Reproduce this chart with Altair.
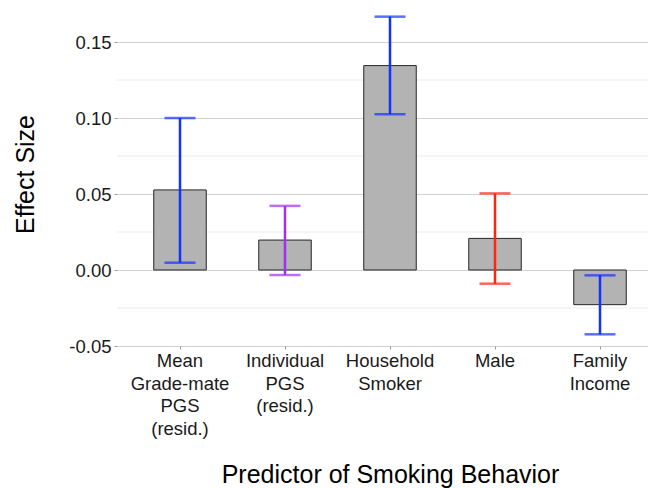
import altair as alt
import pandas as pd

predictors = ["Mean\nGrade-mate\nPGS\n(resid.)", "Individual\nPGS\n(resid.)", "Household\nSmoker", "Male", "Family\nIncome"]
estimates = [0.0527, 0.0197, 0.1345, 0.0208, -0.0228]
ci_low = [0.0048, -0.0033, 0.1025, -0.0090, -0.0423]
ci_high = [0.1000, 0.0422, 0.1667, 0.0504, -0.0035]
bar_colors = ["#1232FF", "#A030F0", "#1232FF", "#FF2410", "#1232FF"]
y_ticks = [-0.05, 0.0, 0.05, 0.10, 0.15]
minor_grid = [-0.025, 0.025, 0.075, 0.125]

df = pd.DataFrame({"predictor": predictors, "est": estimates, "lo": ci_low,
                   "hi": ci_high, "col": bar_colors})
minor_df = pd.DataFrame({"v": minor_grid})

FONT = "Liberation Sans"
yscale = alt.Scale(domain=[-0.05, 0.1724], nice=False, zero=False)
xscale = alt.Scale(domain=predictors, range=[0, 546], paddingInner=0, paddingOuter=0.1)

xaxis = alt.Axis(
    title="Predictor of Smoking Behavior", labelAngle=0,
    labelExpr="split(datum.value, '\\n')",
    labelFont=FONT, labelFontSize=18.5, labelColor="#1a1a1a", labelLineHeight=22.7,
    labelBaseline="top", labelPadding=2.5, labelAlign="center",
    domain=False, grid=False, ticks=True, tickColor="#999999", tickSize=3,
    titleFont=FONT, titleFontSize=25, titleFontWeight="normal", titleColor="#000000",
    titleX=273, titleY=136, titleBaseline="alphabetic", titleAlign="center",
)
yaxis = alt.Axis(
    title="Effect Size", values=y_ticks,
    labelExpr="datum.value < 0 ? '-' + format(-datum.value, '.2f') : format(datum.value, '.2f')",
    labelFont=FONT, labelFontSize=18.5, labelColor="#1a1a1a", labelPadding=3,
    domain=False, grid=True, gridColor="#D2D2D2", gridWidth=1.2,
    ticks=True, tickColor="#999999", tickSize=3,
    titleFont=FONT, titleFontSize=25, titleFontWeight="normal", titleColor="#000000",
    titleAngle=270, titleX=-84, titleY=166, titleBaseline="alphabetic", titleAlign="center",
)

minor = alt.Chart(minor_df).mark_rule(color="#EBEBEB", strokeWidth=1).encode(
    y=alt.Y("v:Q", scale=yscale, axis=yaxis)
)

base = alt.Chart(df)
bars = base.mark_bar(fill="#B3B3B3", stroke="#262626", strokeWidth=1, width=52.5).encode(
    x=alt.X("predictor:N", scale=xscale, axis=xaxis, sort=predictors),
    y=alt.Y("est:Q", scale=yscale, axis=yaxis),
    y2=alt.Y2(datum=0),
)
whisk = base.mark_rule(strokeWidth=2.5).encode(
    x=alt.X("predictor:N", scale=xscale, axis=xaxis, sort=predictors),
    y=alt.Y("lo:Q", scale=yscale, axis=yaxis),
    y2="hi:Q",
    color=alt.Color("col:N", scale=None),
)
cap_lo = base.mark_tick(orient="horizontal", size=31, thickness=2.5).encode(
    x=alt.X("predictor:N", scale=xscale, axis=xaxis, sort=predictors),
    y=alt.Y("lo:Q", scale=yscale, axis=yaxis),
    color=alt.Color("col:N", scale=None),
)
cap_hi = base.mark_tick(orient="horizontal", size=31, thickness=2.5).encode(
    x=alt.X("predictor:N", scale=xscale, axis=xaxis, sort=predictors),
    y=alt.Y("hi:Q", scale=yscale, axis=yaxis),
    color=alt.Color("col:N", scale=None),
)

chart = alt.layer(minor, bars, whisk, cap_lo, cap_hi).properties(
    width=531, height=338,
    autosize=alt.AutoSizeParams(type="none"),
    padding={"left": 109, "top": 0, "right": 0, "bottom": 142},
    background="white",
).configure_view(stroke=None)

chart.save("out.html", embed_options={"renderer": "svg", "actions": False})
